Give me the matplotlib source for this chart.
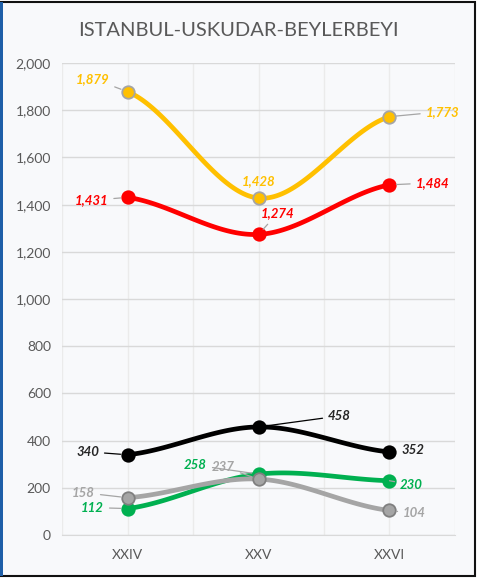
import numpy as np
import matplotlib.pyplot as plt
from matplotlib.patches import Rectangle

plt.rcParams['font.family'] = ['Lato', 'DejaVu Sans']

categories = ['XXIV', 'XXV', 'XXVI']
gold = [1879, 1428, 1773]
red = [1431, 1274, 1484]
black = [340, 458, 352]
green = [112, 258, 230]
gray = [158, 237, 104]

# (values, line colour, marker face, marker edge, label colour, leader colour, label offsets in px)
series = [
    (gold, '#FFC000', '#FFC000', '#A5A5A5', '#FFC000', '#A5A5A5', [(-35, 13), (0, 17), (53, 5)]),
    (red, '#FF0000', '#FF0000', '#FF0000', '#FF0000', '#A5A5A5', [(-36, -3), (19, 21), (43, 2)]),
    (black, '#000000', '#000000', '#000000', '#262626', '#000000', [(-40, 3), (81, 11), (23, 2)]),
    (green, '#00B050', '#00B050', '#00B050', '#00B050', '#A5A5A5', [(-35, 1), (-63, 9), (22, -4)]),
    (gray, '#A5A5A5', '#A5A5A5', '#7F7F7F', '#A5A5A5', '#A5A5A5', [(-44, 5), (-35, 12), (25, -3)]),
]


def smooth(y, n=60):
    # catmull-rom through the points
    x = np.arange(len(y), dtype=float)
    y = np.asarray(y, dtype=float)
    px = np.concatenate([[2 * x[0] - x[1]], x, [2 * x[-1] - x[-2]]])
    py = np.concatenate([[y[0]], y, [y[-1]]])
    xs, ys = [], []
    for i in range(1, len(px) - 2):
        t = np.linspace(0, 1, n)
        for p, out in ((px, xs), (py, ys)):
            p0, p1, p2, p3 = p[i - 1], p[i], p[i + 1], p[i + 2]
            out.extend(0.5 * ((2 * p1) + (-p0 + p2) * t + (2 * p0 - 5 * p1 + 4 * p2 - p3) * t ** 2
                              + (-p0 + 3 * p1 - 3 * p2 + p3) * t ** 3))
    return np.array(xs), np.array(ys)


fig = plt.figure(figsize=(4.86, 5.79), dpi=100)
fig.patch.set_facecolor('white')
fig.patches.append(Rectangle((0, 0.006), 0.978, 0.99, transform=fig.transFigure,
                             facecolor='#f8f9fb', edgecolor='#111111', linewidth=1.5, zorder=-2))
fig.patches.append(Rectangle((0, 0.006), 0.007, 0.99, transform=fig.transFigure,
                             facecolor='#1f5fa8', edgecolor='none', zorder=-1))

ax = fig.add_axes([0.1276, 0.076, 0.8086, 0.815])
ax.set_facecolor('#f8f9fb')

for vals, lc, mfc, mec, tc, lead, offs in series:
    sx, sy = smooth(vals)
    ax.plot(sx, sy, color=lc, linewidth=3.4, solid_capstyle='round', zorder=3)
    ax.plot(range(len(vals)), vals, linestyle='none', marker='o', markersize=9,
            markerfacecolor=mfc, markeredgecolor=mec, markeredgewidth=1.3, zorder=4)
    for i, v in enumerate(vals):
        dx, dy = offs[i]
        ap = None
        if abs(dx) > 15 or abs(dy) > 18:
            ap = dict(arrowstyle='-', color=lead, linewidth=0.9, shrinkA=2, shrinkB=5)
        ax.annotate(f'{v:,}', (i, v), xytext=(dx, dy), textcoords='offset pixels',
                    ha='center', va='center', fontsize=9.5, fontweight='bold',
                    fontstyle='italic', color=tc, arrowprops=ap, zorder=5)

ax.set_xlim(-0.5, 2.5)
ax.set_ylim(0, 2000)
ax.set_yticks(np.arange(0, 2001, 200))
ax.set_yticklabels([f'{t:,}' for t in range(0, 2001, 200)])
ax.set_xticks(range(3))
ax.set_xticklabels(categories)
ax.set_xticks([-0.5, 0.5, 1.5, 2.5], minor=True)
ax.grid(True, axis='y', color='#d9d9d9', linewidth=1)
ax.grid(True, axis='x', which='both', color='#ebebeb', linewidth=1)
ax.set_axisbelow(True)
for s in ['top', 'right', 'left']:
    ax.spines[s].set_visible(False)
ax.spines['bottom'].set_color('#d9d9d9')
ax.tick_params(axis='both', which='both', length=0, labelsize=10, labelcolor='#595959')
ax.tick_params(axis='y', pad=8)
ax.tick_params(axis='x', pad=10)

fig.text(0.49, 0.947, 'ISTANBUL-USKUDAR-BEYLERBEYI', ha='center', va='center',
         fontsize=14.5, color='#595959')

fig.savefig('out.png', dpi=100, facecolor=fig.get_facecolor())
